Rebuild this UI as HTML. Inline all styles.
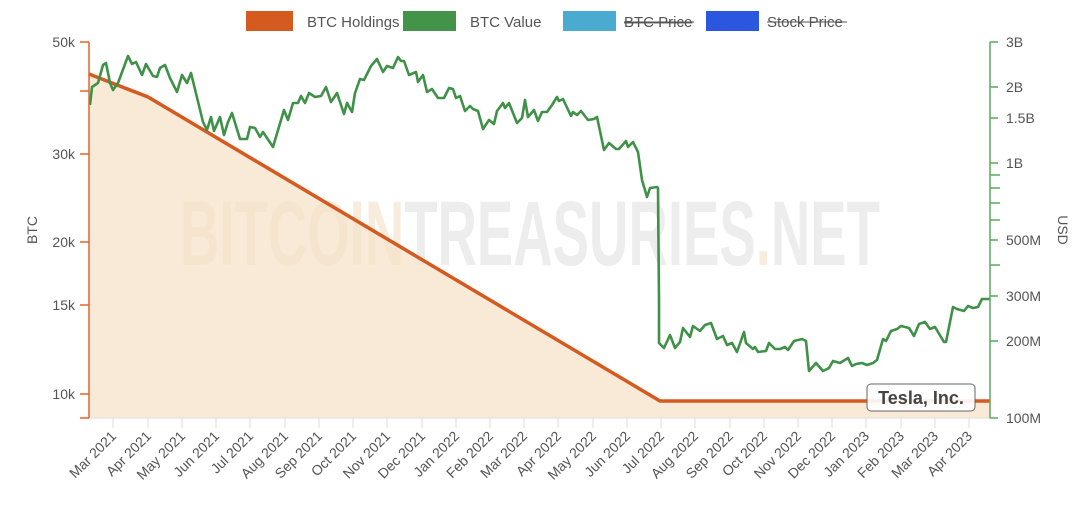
<!DOCTYPE html>
<html><head><meta charset="utf-8"><style>
body{margin:0;background:#fff;width:1083px;height:504px;overflow:hidden;font-family:"Liberation Sans",sans-serif}
</style></head><body>
<svg width="1083" height="504" viewBox="0 0 1083 504" xmlns="http://www.w3.org/2000/svg" font-family="Liberation Sans, sans-serif">
<!-- legend -->
<rect x="246" y="11" width="47" height="20" fill="#d45a20"/>
<text x="307" y="27" font-size="15" fill="#555">BTC Holdings</text>
<rect x="403" y="11" width="53" height="20" fill="#43944a"/>
<text x="470" y="27" font-size="15" fill="#555">BTC Value</text>
<rect x="563" y="11" width="53" height="20" fill="#4aaacf"/>
<text x="624" y="27" font-size="15" fill="#555" text-decoration="line-through">BTC Price</text>
<line x1="624" y1="22" x2="694" y2="22" stroke="#555" stroke-width="1"/>
<rect x="706" y="11" width="53" height="20" fill="#2b56e0"/>
<text x="767" y="27" font-size="15" fill="#555">Stock Price</text>
<line x1="767" y1="22" x2="847" y2="22" stroke="#555" stroke-width="1"/>

<!-- watermark -->
<text x="530" y="265" font-size="92" font-weight="bold" text-anchor="middle" textLength="700" lengthAdjust="spacingAndGlyphs"><tspan fill="#f8ecdd">BITCOIN</tspan><tspan fill="#ededed">TREASURIES</tspan><tspan fill="#f8ecdd">.</tspan><tspan fill="#ededed">NET</tspan></text>

<!-- area -->
<polygon points="89,74 148,97 660,401 990,401 990,418 89,418" fill="#f5e3c8" opacity="0.75"/>
<polyline points="89,74 148,97 660,401 990,401" fill="none" stroke="#d45a20" stroke-width="3.5"/>

<!-- green -->
<polyline fill="none" stroke="#3f9147" stroke-width="2.6" stroke-linejoin="round" points="90,105 92,87 98,83 103,65 106,63 110,83 113,90 118,83 128,56 132,64 136,62 142,75 146,64 153,76 157,77 160,68 165,65 170,78 177,92 182,75 187,83 191,73 203,122 207,130 211,117 214,131 220,117 224,135 228,122 232,113 240,139 247,139 250,127 255,128 260,137 263,132 273,147 284,110 288,120 293,103 298,103 301,96 305,103 309,93 315,97 321,96 326,87 331,102 337,93 344,114 347,103 352,112 355,93 360,79 364,80 371,66 377,59 383,72 387,66 393,68 398,57 401,61 404,61 409,75 416,72 418,82 423,75 427,92 432,89 438,98 444,98 449,88 453,89 456,98 460,96 465,111 470,106 473,109 478,111 483,129 489,120 494,124 497,111 503,103 505,108 509,103 517,123 522,118 525,100 528,117 534,110 538,121 542,112 547,112 552,105 557,97 559,101 563,99 571,116 573,112 577,115 581,111 588,120 594,119 597,117 604,150 609,143 616,149 619,149 626,141 628,147 633,142 638,152 642,180 647,197 650,188 657,187 658,188 659,300 659,343 664,348 670,335 675,348 680,342 683,328 690,337 693,326 700,331 705,325 711,323 717,339 723,336 727,345 732,343 737,352 744,332 746,343 753,349 755,347 758,352 766,351 769,343 775,349 780,349 785,347 788,350 794,341 802,339 806,341 809,371 816,363 823,371 829,368 833,361 840,363 848,358 852,366 856,364 862,363 867,365 873,363 877,360 883,339 886,341 891,331 897,329 901,326 909,328 914,336 919,324 925,322 930,329 935,327 944,342 946,342 953,307 957,309 964,311 968,306 973,308 978,307 982,299 990,299"/>

<!-- bottom axis -->
<line x1="89" y1="418" x2="990" y2="418" stroke="#ddd" stroke-width="1"/>
<g stroke="#ddd" stroke-width="1">
<line x1="113" y1="418" x2="113" y2="428"/><line x1="148" y1="418" x2="148" y2="428"/><line x1="182" y1="418" x2="182" y2="428"/><line x1="216" y1="418" x2="216" y2="428"/><line x1="250" y1="418" x2="250" y2="428"/><line x1="285" y1="418" x2="285" y2="428"/><line x1="319" y1="418" x2="319" y2="428"/><line x1="353" y1="418" x2="353" y2="428"/><line x1="387" y1="418" x2="387" y2="428"/><line x1="422" y1="418" x2="422" y2="428"/><line x1="456" y1="418" x2="456" y2="428"/><line x1="490" y1="418" x2="490" y2="428"/><line x1="524" y1="418" x2="524" y2="428"/><line x1="558" y1="418" x2="558" y2="428"/><line x1="593" y1="418" x2="593" y2="428"/><line x1="627" y1="418" x2="627" y2="428"/><line x1="661" y1="418" x2="661" y2="428"/><line x1="695" y1="418" x2="695" y2="428"/><line x1="730" y1="418" x2="730" y2="428"/><line x1="764" y1="418" x2="764" y2="428"/><line x1="798" y1="418" x2="798" y2="428"/><line x1="832" y1="418" x2="832" y2="428"/><line x1="866" y1="418" x2="866" y2="428"/><line x1="901" y1="418" x2="901" y2="428"/><line x1="935" y1="418" x2="935" y2="428"/><line x1="969" y1="418" x2="969" y2="428"/>
</g>
<g font-size="14" fill="#555" text-anchor="end">
<text transform="translate(117,437) rotate(-45)">Mar 2021</text>
<text transform="translate(152,437) rotate(-45)">Apr 2021</text>
<text transform="translate(186,437) rotate(-45)">May 2021</text>
<text transform="translate(220,437) rotate(-45)">Jun 2021</text>
<text transform="translate(254,437) rotate(-45)">Jul 2021</text>
<text transform="translate(289,437) rotate(-45)">Aug 2021</text>
<text transform="translate(323,437) rotate(-45)">Sep 2021</text>
<text transform="translate(357,437) rotate(-45)">Oct 2021</text>
<text transform="translate(391,437) rotate(-45)">Nov 2021</text>
<text transform="translate(426,437) rotate(-45)">Dec 2021</text>
<text transform="translate(460,437) rotate(-45)">Jan 2022</text>
<text transform="translate(494,437) rotate(-45)">Feb 2022</text>
<text transform="translate(528,437) rotate(-45)">Mar 2022</text>
<text transform="translate(562,437) rotate(-45)">Apr 2022</text>
<text transform="translate(597,437) rotate(-45)">May 2022</text>
<text transform="translate(631,437) rotate(-45)">Jun 2022</text>
<text transform="translate(665,437) rotate(-45)">Jul 2022</text>
<text transform="translate(699,437) rotate(-45)">Aug 2022</text>
<text transform="translate(734,437) rotate(-45)">Sep 2022</text>
<text transform="translate(768,437) rotate(-45)">Oct 2022</text>
<text transform="translate(802,437) rotate(-45)">Nov 2022</text>
<text transform="translate(836,437) rotate(-45)">Dec 2022</text>
<text transform="translate(870,437) rotate(-45)">Jan 2023</text>
<text transform="translate(905,437) rotate(-45)">Feb 2023</text>
<text transform="translate(939,437) rotate(-45)">Mar 2023</text>
<text transform="translate(973,437) rotate(-45)">Apr 2023</text>
</g>

<!-- left axis -->
<g stroke="#e0662a" stroke-width="1.5">
<line x1="89" y1="42" x2="89" y2="418"/>
<line x1="80" y1="42" x2="89" y2="42"/><line x1="80" y1="91" x2="89" y2="91"/><line x1="80" y1="154" x2="89" y2="154"/><line x1="80" y1="242" x2="89" y2="242"/><line x1="80" y1="305" x2="89" y2="305"/><line x1="80" y1="394" x2="89" y2="394"/><line x1="80" y1="418" x2="89" y2="418"/>
</g>
<g font-size="14" fill="#555" text-anchor="end">
<text x="75" y="47">50k</text><text x="75" y="159">30k</text><text x="75" y="247">20k</text><text x="75" y="310">15k</text><text x="75" y="399">10k</text>
</g>
<text transform="translate(37,230) rotate(-90)" font-size="14" fill="#555" text-anchor="middle">BTC</text>

<!-- right axis -->
<g stroke="#5aa95e" stroke-width="1.5">
<line x1="990" y1="42" x2="990" y2="418"/>
<line x1="990" y1="42" x2="998" y2="42"/><line x1="990" y1="87" x2="998" y2="87"/><line x1="990" y1="118" x2="998" y2="118"/><line x1="990" y1="163" x2="998" y2="163"/><line x1="990" y1="175" x2="1000" y2="175"/><line x1="990" y1="188" x2="1000" y2="188"/><line x1="990" y1="203" x2="1000" y2="203"/><line x1="990" y1="220" x2="1000" y2="220"/><line x1="990" y1="240" x2="998" y2="240"/><line x1="990" y1="265" x2="1000" y2="265"/><line x1="990" y1="296" x2="998" y2="296"/><line x1="990" y1="341" x2="998" y2="341"/><line x1="990" y1="418" x2="998" y2="418"/>
</g>
<g font-size="14" fill="#555">
<text x="1006" y="47">3B</text><text x="1006" y="92">2B</text><text x="1006" y="123">1.5B</text><text x="1006" y="168">1B</text><text x="1006" y="245">500M</text><text x="1006" y="301">300M</text><text x="1006" y="346">200M</text><text x="1006" y="423">100M</text>
</g>
<text transform="translate(1058,230) rotate(90)" font-size="14" fill="#555" text-anchor="middle">USD</text>

<!-- label -->
<rect x="867" y="384" width="108" height="27" rx="4" fill="#fff" fill-opacity="0.9" stroke="#666" stroke-width="1"/>
<text x="921" y="404" font-size="18" font-weight="bold" fill="#444" text-anchor="middle">Tesla, Inc.</text>
</svg>
</body></html>
